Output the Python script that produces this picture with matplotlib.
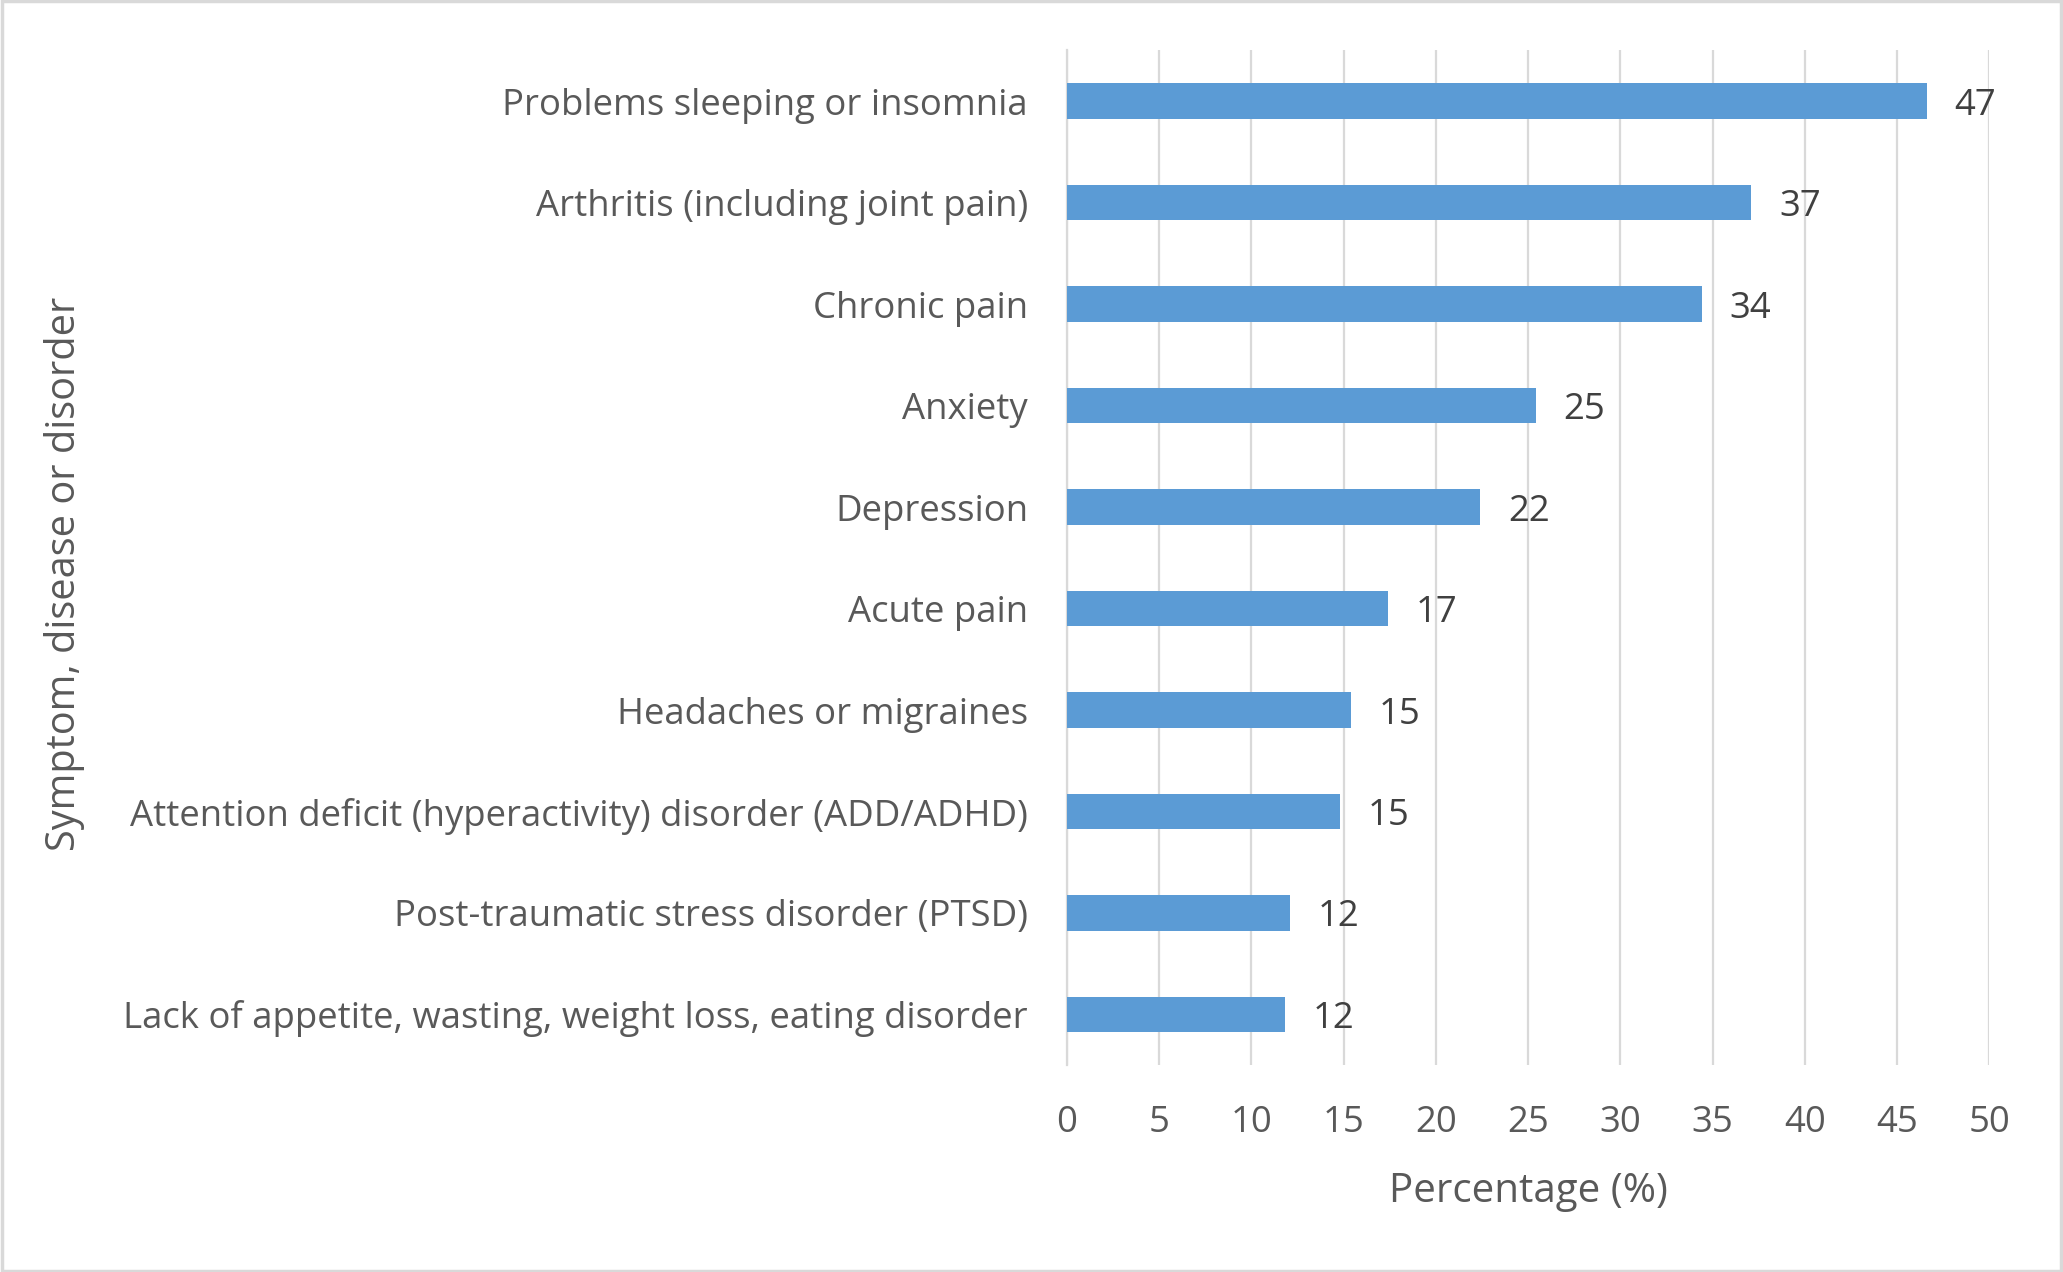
import matplotlib
matplotlib.use("Agg")
import matplotlib.pyplot as plt
from matplotlib.patches import Rectangle

categories = [
    "Problems sleeping or insomnia",
    "Arthritis (including joint pain)",
    "Chronic pain",
    "Anxiety",
    "Depression",
    "Acute pain",
    "Headaches or migraines",
    "Attention deficit (hyperactivity) disorder (ADD/ADHD)",
    "Post-traumatic stress disorder (PTSD)",
    "Lack of appetite, wasting, weight loss, eating disorder",
]
values = [46.6, 37.1, 34.4, 25.4, 22.4, 17.4, 15.4, 14.8, 12.1, 11.8]
xticks = [0, 5, 10, 15, 20, 25, 30, 35, 40, 45, 50]

FONT = "Open Sans"
plt.rcParams['font.family'] = [FONT, 'DejaVu Sans']

fig = plt.figure(figsize=(20.63, 12.72), dpi=100)
ax = fig.add_axes([0.5172, 0.1626, 0.4471, 0.7977])

y = list(range(len(categories)))
ax.barh(y, values, height=0.35, color="#5B9BD5", zorder=3)
ax.set_ylim(len(categories) - 0.5, -0.5)
ax.set_xlim(0, 50)
ax.set_xticks(xticks)
ax.set_xticklabels([str(t) for t in xticks])
ax.set_yticks(y)
ax.set_yticklabels(categories)

tick_fs = 26.3
ax.tick_params(axis='y', length=0, pad=28, labelsize=tick_fs, labelcolor="#595959")
ax.tick_params(axis='x', length=0, pad=29, labelsize=tick_fs, labelcolor="#595959")

ax.grid(axis='x', color="#D9D9D9", linewidth=1.6, zorder=0)
for s in ['top', 'right', 'bottom']:
    ax.spines[s].set_visible(False)
ax.spines['left'].set_color("#D9D9D9")
ax.spines['left'].set_linewidth(1.6)

for yi, v in zip(y, values):
    ax.annotate(f"{v:.0f}", (v, yi), xytext=(20, 0), textcoords='offset points',
                ha='left', va='center_baseline', fontsize=tick_fs, color="#404040")

ax.set_xlabel("Percentage (%)", fontsize=29, color="#595959")
ax.xaxis.set_label_coords(0.5, -0.125)
ax.xaxis.label.set_va('center')
ax.set_ylabel("Symptom, disease or disorder", fontsize=28.6, color="#595959")
ax.yaxis.set_label_coords(-1.087, 0.484)
ax.yaxis.label.set_va('center')

fig.patches.append(Rectangle((0.001, 0.001), 0.998, 0.998, transform=fig.transFigure,
                             fill=False, edgecolor="#D9D9D9", linewidth=2.5))

fig.savefig("out.png", dpi=100, facecolor="white")
